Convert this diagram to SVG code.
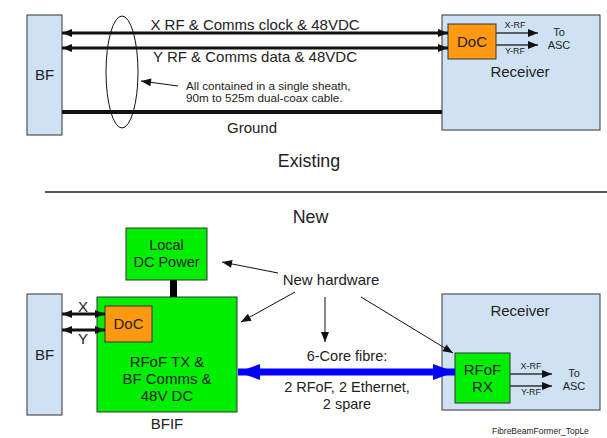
<svg xmlns="http://www.w3.org/2000/svg" width="607" height="438" viewBox="0 0 607 438">
<defs>
<style>
text{font-family:"Liberation Sans",Arial,sans-serif;fill:#222}
.blue{fill:#cfe2f3;stroke:#333;stroke-width:1}
.green{fill:#00ee00;stroke:#333;stroke-width:1}
.orange{fill:#ff9912;stroke:#333;stroke-width:1}
.t14{font-size:14.5px}
.t15{font-size:15px}
.t18{font-size:17.8px}
.t11{font-size:11.7px}
.t9{font-size:9px}
.mid{text-anchor:middle}
.cable{stroke:#111;stroke-width:3;fill:none}
.thin{stroke:#111;stroke-width:1;fill:none}
.sig{stroke:#333;stroke-width:1.5;fill:none}
</style>
<marker id="ah" viewBox="0 0 10 8" refX="10" refY="4" markerWidth="10" markerHeight="8" markerUnits="userSpaceOnUse" orient="auto-start-reverse"><path d="M0,0 L10,4 L0,8 z" fill="#111"/></marker>
<marker id="ahs" viewBox="0 0 10 8" refX="10" refY="4" markerWidth="11" markerHeight="8" markerUnits="userSpaceOnUse" orient="auto"><path d="M0,0 L10,4 L0,8 z" fill="#111"/></marker>
<marker id="ahb" viewBox="0 0 22 16" refX="22" refY="8" markerWidth="22" markerHeight="16" markerUnits="userSpaceOnUse" orient="auto-start-reverse"><path d="M0,0 L22,8 L0,16 z" fill="#0000ff"/></marker>
</defs>

<g id="bf-top"><rect class="blue" x="27" y="15" width="35" height="120"/><text class="t15 mid" x="44.5" y="80">BF</text></g>
<g id="receiver-top"><rect class="blue" x="442" y="15" width="158" height="115"/><text class="t15 mid" x="520" y="77">Receiver</text></g>
<g id="doc-top"><rect class="orange" x="448" y="24" width="48" height="35"/><text class="t15 mid" x="472" y="47">DoC</text></g>
<g id="asc-top"><text class="t11 mid" x="559" y="36" style="font-size:11px">To</text><text class="t11 mid" x="559" y="49" style="font-size:11px">ASC</text></g>

<g id="bf-bottom"><rect class="blue" x="27" y="294" width="35" height="121"/><text class="t15 mid" x="44.5" y="360">BF</text></g>
<g id="local-dc"><rect class="green" x="126" y="228" width="81" height="52"/><text class="t14 mid" x="166.5" y="250">Local</text><text class="t14 mid" x="166.5" y="267">DC Power</text></g>
<g id="bfif"><rect class="green" x="97" y="297" width="140" height="115"/><text class="t15 mid" x="167" y="367">RFoF TX &amp;</text><text class="t15 mid" x="167" y="384">BF Comms &amp;</text><text class="t15 mid" x="167" y="401">48V DC</text><text class="t15 mid" x="167" y="429">BFIF</text></g>
<g id="doc-bottom"><rect class="orange" x="105" y="306" width="47" height="36"/><text class="t15 mid" x="128.5" y="329">DoC</text></g>
<g id="receiver-bottom"><rect class="blue" x="442" y="294" width="158" height="116"/><text class="t15 mid" x="520" y="316">Receiver</text></g>
<g id="rfof-rx"><rect class="green" x="455" y="353" width="55" height="50"/><text class="t15 mid" x="482.5" y="375">RFoF</text><text class="t15 mid" x="482.5" y="392">RX</text></g>
<g id="asc-bottom"><text class="t11 mid" x="574" y="377" style="font-size:11px">To</text><text class="t11 mid" x="574" y="390" style="font-size:11px">ASC</text></g>

<g id="connectors">
<line class="cable" x1="62" y1="33" x2="448" y2="33" marker-start="url(#ah)" marker-end="url(#ah)"/>
<line class="cable" x1="62" y1="48" x2="448" y2="48" marker-start="url(#ah)" marker-end="url(#ah)"/>
<line x1="62" y1="112" x2="442" y2="112" stroke="#111" stroke-width="4"/>
<ellipse cx="122" cy="72" rx="16" ry="56" class="thin"/>
<line class="thin" x1="178" y1="86" x2="141" y2="81" marker-end="url(#ahs)"/>
<line class="sig" x1="496" y1="33" x2="538" y2="33" marker-end="url(#ahs)"/>
<line class="sig" x1="496" y1="45" x2="538" y2="45" marker-end="url(#ahs)"/>

<line x1="45" y1="192" x2="607" y2="192" stroke="#222" stroke-width="1.5"/>

<line x1="173.5" y1="280" x2="173.5" y2="297" stroke="#000" stroke-width="7"/>
<line class="cable" x1="62" y1="314" x2="105" y2="314" marker-start="url(#ah)" marker-end="url(#ah)"/>
<line class="cable" x1="62" y1="330" x2="105" y2="330" marker-start="url(#ah)" marker-end="url(#ah)"/>
<line x1="238" y1="372" x2="455" y2="372" stroke="#0000ff" stroke-width="7" marker-start="url(#ahb)" marker-end="url(#ahb)"/>
<line class="thin" x1="278" y1="273" x2="222" y2="262" marker-end="url(#ahs)"/>
<line class="thin" x1="295" y1="292" x2="241" y2="322" marker-end="url(#ahs)"/>
<line class="thin" x1="325" y1="297" x2="325" y2="342" marker-end="url(#ahs)"/>
<line class="thin" x1="361" y1="297" x2="453" y2="353" marker-end="url(#ahs)"/>
<line class="sig" x1="510" y1="374" x2="552" y2="374" marker-end="url(#ahs)"/>
<line class="sig" x1="510" y1="386" x2="552" y2="386" marker-end="url(#ahs)"/>
</g>

<g id="labels">
<text class="t15 mid" x="255" y="30">X RF &amp; Comms clock &amp; 48VDC</text>
<text class="t15 mid" x="255" y="62">Y RF &amp; Comms data &amp; 48VDC</text>
<text class="t11" x="186" y="90">All contained in a single sheath,</text>
<text class="t11" x="186" y="102">90m to 525m dual-coax cable.</text>
<text class="t15 mid" x="252" y="133">Ground</text>
<text class="t9 mid" x="515" y="28">X-RF</text>
<text class="t9 mid" x="515" y="54">Y-RF</text>
<text class="t18 mid" x="309" y="167">Existing</text>
<text class="t18 mid" x="310.5" y="223">New</text>
<text class="t15 mid" x="331" y="285">New hardware</text>
<text class="t15 mid" x="83" y="312">X</text>
<text class="t15 mid" x="83" y="344">Y</text>
<text class="t14 mid" x="347" y="361">6-Core fibre:</text>
<text class="t14 mid" x="347" y="392">2 RFoF, 2 Ethernet,</text>
<text class="t14 mid" x="347" y="409">2 spare</text>
<text class="t9 mid" x="531" y="369">X-RF</text>
<text class="t9 mid" x="531" y="395">Y-RF</text>
<text class="t9" x="492" y="434" style="font-size:8.5px">FibreBeamFormer_TopLe</text>
</g>
</svg>
